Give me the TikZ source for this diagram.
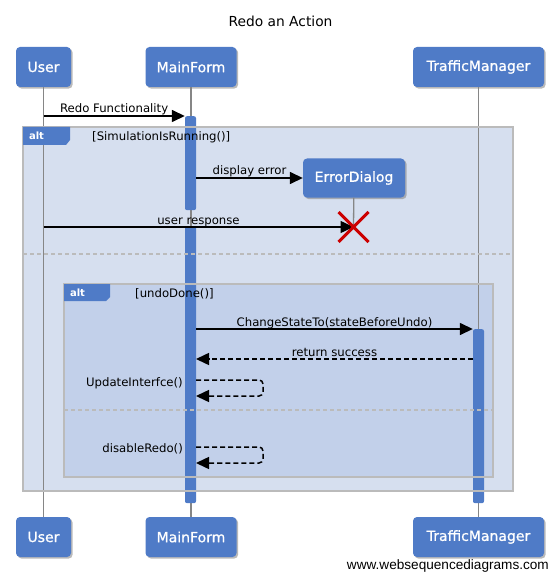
\documentclass[tikz,border=0pt]{standalone}
\usepackage{fontspec}
\setmainfont{DejaVu Sans}
\newfontfamily\markfont{Liberation Sans}
\newfontfamily\actorfont[FakeBold=0.9]{DejaVu Sans}
\usetikzlibrary{arrows.meta}
\usetikzlibrary{shadows}
\definecolor{wsdblue}{HTML}{4F7BC7}
\definecolor{altouter}{HTML}{D6DFEF}
\definecolor{altinner}{HTML}{C2D0EA}
\definecolor{framegray}{HTML}{BBBBBB}
\definecolor{lifegray}{HTML}{868686}
\definecolor{killred}{HTML}{CC0000}
\tikzset{
    actor/.style = {fill=wsdblue, text=white, rounded corners=4pt, minimum height=40pt, inner sep=0pt,
        font=\actorfont\fontsize{14}{16}\selectfont,
        drop shadow={shadow xshift=1.6pt, shadow yshift=-1.6pt, opacity=.55}},
    lifeline/.style = {draw=lifegray, line width=1.3pt},
    actbar/.style = {fill=wsdblue, anchor=north, minimum width=11pt, inner sep=0pt,
        rounded corners=2pt},
    frameline/.style = {draw=framegray, line width=1.6pt},
    separator/.style = {draw=framegray, line width=1.2pt, dash pattern=on 4pt off 3pt},
    alttab/.style = {fill=wsdblue},
    tablabel/.style = {text=white, inner sep=0pt, font=\bfseries\fontsize{10}{12}\selectfont},
    guard/.style = {anchor=west, inner sep=0pt, font=\fontsize{11.7}{14}\selectfont},
    msg/.style = {line width=1.5pt, -{Triangle[length=13pt, width=12pt]}},
    reply/.style = {msg, dash pattern=on 5pt off 3pt},
    msglabel/.style = {anchor=base, yshift=3pt, inner sep=0pt, font=\fontsize{11.7}{14}\selectfont},
    selflabel/.style = {anchor=east, inner sep=0pt, font=\fontsize{11.7}{14}\selectfont},
    killmark/.style = {draw=killred, line width=3pt}
}
\begin{document}
\begin{tikzpicture}[x=1pt, y=-1pt]
    \useasboundingbox (0,0) rectangle (558,580);
    \node [font=\fontsize{13.8}{16}\selectfont] (title) at (280.5,21) {Redo an Action};

    \node [actor, minimum width=55pt] (user) at (43.5,67) {User};
    \node [actor, minimum width=91pt] (form) at (191,67) {MainForm};
    \node [actor, minimum width=131pt] (traffic) at (478.5,67) {TrafficManager};
    \node [actor, minimum width=55pt] (userbot) at (43.5,537) {User};
    \node [actor, minimum width=91pt] (formbot) at (191,537) {MainForm};
    \node [actor, minimum width=131pt] (trafficbot) at (478.5,537) {TrafficManager};

    \fill [altouter] (23,127) rectangle (513,491);
    \fill [altinner] (64,284) rectangle (493,477);

    \draw [lifeline] (user) -- (userbot);
    \draw [lifeline] (form) -- (formbot);
    \draw [lifeline] (traffic) -- (trafficbot);

    \node [actbar, minimum height=94pt] (formbarA) at (190.5,116) {};
    \node [actbar, minimum height=277pt] (formbarB) at (190.5,226) {};
    \node [actbar, minimum height=174pt] (trafficbar) at (478.5,329) {};

    \draw [frameline] (23,127) rectangle (513,491);
    \draw [separator] (23,254) -- (513,254);
    \draw [frameline] (64,284) rectangle (493,477);
    \draw [separator] (64,410) -- (493,410);

    \fill [alttab] (23,127) -- (70,127) -- (70,140) -- (66,145) -- (23,145) -- cycle;
    \node [tablabel] (outeralt) at (36.5,136) {alt};
    \node [guard] (outerguard) at (92,137.5) {[SimulationIsRunning()]};
    \fill [alttab] (64,284) -- (110,284) -- (110,297) -- (106,301) -- (64,301) -- cycle;
    \node [tablabel] (inneralt) at (77.5,293) {alt};
    \node [guard] (innerguard) at (135,294) {[undoDone()]};

    \coordinate (redofrom) at (43.5,116);
    \draw [msg] (redofrom) -- (formbarA.north west)
        node [msglabel, pos=.5] (redolabel) {Redo Functionality};

    \node [actor, minimum width=102pt, minimum height=39pt] (errdlg) at (354,178) {ErrorDialog};
    \coordinate (kill) at (353.5,227);
    \draw [lifeline] (errdlg) -- (kill);
    \draw [msg] (formbarA.east |- errdlg.west) -- (errdlg.west)
        node [msglabel, pos=.5] (errlabel) {display error};

    \coordinate (respfrom) at (43.5,227);
    \draw [msg] (respfrom) -- (kill)
        node [msglabel, pos=.5] (resplabel) {user response};
    \draw [killmark] (kill) +(-15,-15) -- +(15,15) (kill) +(-15,15) -- +(15,-15);

    \draw [msg] (formbarB.east |- trafficbar.north) -- (trafficbar.north west)
        node [msglabel, pos=.5] (changelabel) {ChangeStateTo(stateBeforeUndo)};

    \coordinate (retfrom) at (473,359);
    \coordinate (retto) at (196,359);
    \draw [reply] (retfrom) -- (retto)
        node [msglabel, pos=.5] (retlabel) {return success};

    \coordinate (updfrom) at (196,380);
    \draw [reply, rounded corners=4pt] (updfrom) -- ++(67,0) -- ++(0,16) -- ++(-67,0);
    \node [selflabel] (updlabel) at (183,383) {UpdateInterfce()};

    \coordinate (disfrom) at (196,447);
    \draw [reply, rounded corners=4pt] (disfrom) -- ++(67,0) -- ++(0,16) -- ++(-67,0);
    \node [selflabel] (dislabel) at (183,449) {disableRedo()};

    \node [anchor=east, inner sep=0pt, font=\markfont\fontsize{13.6}{16}\selectfont] (credit) at (549,566) {www.websequencediagrams.com};
\end{tikzpicture}
\end{document}
